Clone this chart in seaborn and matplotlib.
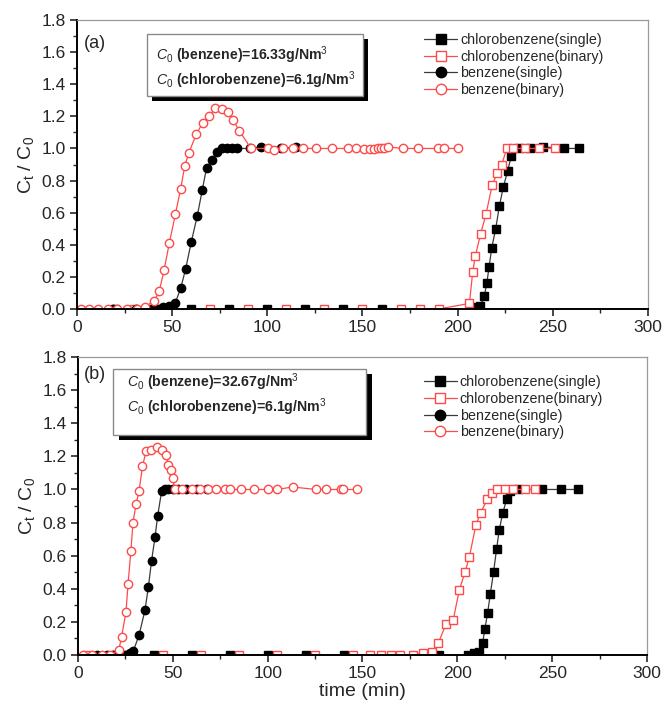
import matplotlib
matplotlib.use("Agg")
import matplotlib.pyplot as plt
import matplotlib.ticker as ticker
from matplotlib.patches import Rectangle
import seaborn as sns

# --- data (time in min, Ct/C0) ---
# panel (a): C0 benzene = 16.33 g/Nm3
a_cb_single_x = [20, 40, 60, 80, 100, 120, 140, 160, 207, 210, 212, 214, 215.3, 216.5, 217.9, 220,
                 221.9, 224, 226.3, 228.1, 232.4, 238, 245, 256, 264]
a_cb_single_y = [0, 0, 0, 0, 0, 0, 0, 0, 0, 0.01, 0.02, 0.08, 0.16, 0.26, 0.38, 0.50,
                 0.64, 0.76, 0.86, 0.95, 1.0, 1.0, 1.01, 1.0, 1.0]
a_cb_binary_x = [30, 50, 70, 90, 110, 130, 150, 170, 180, 190, 206.2, 207.9, 209.3, 212.1, 214.9,
                 218.1, 220.9, 223.2, 225.8, 229.3, 235.4, 243, 251.2]
a_cb_binary_y = [0, 0, 0, 0, 0, 0, 0, 0, 0, 0, 0.035, 0.23, 0.33, 0.47, 0.59,
                 0.77, 0.85, 0.90, 1.0, 1.0, 1.0, 1.0, 1.0]
a_bz_single_x = [19, 31, 42.9, 45.4, 48.5, 51.7, 54.5, 57.1, 60.1, 63.2, 65.8, 68.1, 70.9, 73.4,
                 76, 78.6, 81.3, 84.2, 90.9, 96.7, 107.2, 115.1]
a_bz_single_y = [0, 0, 0, 0.01, 0.02, 0.04, 0.13, 0.25, 0.42, 0.58, 0.74, 0.88, 0.93, 0.98,
                 1.0, 1.0, 1.0, 1.0, 1.0, 1.01, 1.0, 1.01]
a_bz_binary_x = [1.9, 6.5, 11.2, 16.4, 21.2, 26.1, 31.4, 35.7, 40.6, 43.2, 45.7, 48.5, 51.7, 54.5,
                 56.6, 58.7, 62.7, 66.1, 69.2, 72.7, 76.2, 79.5, 81.8, 85.3, 91.4, 100.2, 103.7,
                 108.4, 113.5, 118.5, 125.6, 133.8, 142.2, 146.6, 151, 154.1, 156.2, 158, 159.7,
                 161.5, 163.2, 171.1, 179.3, 189.8, 192.9, 200]
a_bz_binary_y = [0, 0, 0, 0, 0, 0, 0, 0.015, 0.05, 0.11, 0.24, 0.41, 0.59, 0.75,
                 0.89, 0.97, 1.09, 1.16, 1.20, 1.25, 1.245, 1.225, 1.18, 1.11, 1.0, 1.0, 0.99,
                 1.0, 1.0, 1.0, 1.0, 1.0, 1.0, 1.0, 0.995, 0.995, 0.995, 1.0, 1.0,
                 1.0, 1.01, 1.0, 1.0, 1.0, 1.0, 1.0]

# panel (b): C0 benzene = 32.67 g/Nm3
b_cb_single_x = [20, 40, 60, 80, 100, 120, 140, 190.5, 205.4, 208.9, 211.6, 213.3, 214.5, 216,
                 217.4, 219.1, 220.7, 222.1, 223.9, 226, 228, 232, 244.4, 254.6, 263.4]
b_cb_single_y = [0, 0, 0, 0, 0, 0, 0, 0, 0, 0.01, 0.02, 0.07, 0.155, 0.255,
                 0.37, 0.50, 0.64, 0.755, 0.855, 0.94, 0.99, 1.0, 1.0, 1.0, 1.0]
b_cb_binary_x = [5, 25, 45, 65, 85, 105, 125, 145, 154, 160, 165, 170, 176.4, 181.7, 186.5,
                 189.9, 194, 197.8, 201, 204, 206.3, 209.8, 212.3, 215.8, 218.1, 221, 225.1,
                 229.5, 235.6, 240.9]
b_cb_binary_y = [0, 0, 0, 0, 0, 0, 0, 0, 0, 0, 0, 0, 0, 0.01, 0.02,
                 0.07, 0.185, 0.21, 0.39, 0.50, 0.59, 0.785, 0.86, 0.94, 0.98, 1.0, 1.0,
                 1.0, 1.0, 1.0]
b_bz_single_x = [9.8, 15.1, 18.6, 21.3, 24.9, 27.4, 29.2, 32.2, 35.3, 37.1, 38.8, 40.6, 42,
                 44.1, 45.9, 47.6, 50.2, 52.9, 56.9, 62.6, 67.8]
b_bz_single_y = [0, 0, 0, 0, 0, 0.015, 0.025, 0.12, 0.27, 0.41, 0.57, 0.71, 0.84,
                 0.99, 1.0, 1.0, 1.0, 1.0, 1.0, 1.0, 1.0]
b_bz_binary_x = [2.5, 7.2, 12.5, 16.9, 21.5, 23, 25.3, 26.4, 27.9, 29, 30.6, 32.2, 34, 35.9,
                 38.3, 41.5, 44.1, 46.4, 47.6, 48.9, 49.9, 51.1, 55, 60, 64.4, 68.8, 73, 77.5,
                 80.1, 85.9, 92.8, 100.3, 104.7, 113.2, 125.5, 130.6, 138.5, 139.9, 146.9]
b_bz_binary_y = [0, 0, 0, 0, 0.03, 0.11, 0.26, 0.43, 0.63, 0.80, 0.91, 0.99, 1.14, 1.23,
                 1.24, 1.255, 1.24, 1.21, 1.15, 1.12, 1.07, 1.0, 1.0, 1.0, 1.0, 1.0, 1.0, 1.0,
                 1.0, 1.0, 1.0, 1.0, 1.0, 1.015, 1.0, 1.0, 1.0, 1.0, 1.0]

SERIES_LABELS = ["chlorobenzene(single)", "chlorobenzene(binary)", "benzene(single)", "benzene(binary)"]
BOX_LINES = {
    "a": [r"$C_0$ (benzene)=16.33g/Nm$^3$", r"$C_0$ (chlorobenzene)=6.1g/Nm$^3$"],
    "b": [r"$C_0$ (benzene)=32.67g/Nm$^3$", r"$C_0$ (chlorobenzene)=6.1g/Nm$^3$"],
}
X_TICKS = [0, 50, 100, 150, 200, 250, 300]
Y_TICKS = [0.0, 0.2, 0.4, 0.6, 0.8, 1.0, 1.2, 1.4, 1.6, 1.8]

RED = "#ff4a4a"
DARK = "#3a3a3a"

sns.set_style("ticks")
plt.rcParams['font.family'] = ['Liberation Sans', 'DejaVu Sans']
plt.rcParams['mathtext.fontset'] = 'custom'
plt.rcParams['mathtext.rm'] = 'Liberation Sans'
plt.rcParams['mathtext.it'] = 'Liberation Sans:italic'
plt.rcParams['mathtext.bf'] = 'Liberation Sans:bold'


def draw_panel(ax, series, tag, box, box_text_pos, leg_anchor):
    styles = [
        dict(marker='s', color=DARK, markerfacecolor='black', markeredgecolor='black'),
        dict(marker='s', color=RED, markerfacecolor='white', markeredgecolor=RED),
        dict(marker='o', color=DARK, markerfacecolor='black', markeredgecolor='black'),
        dict(marker='o', color=RED, markerfacecolor='white', markeredgecolor=RED),
    ]
    for (xs, ys), lab, st in zip(series, SERIES_LABELS, styles):
        sns.lineplot(x=xs, y=ys, ax=ax, label=lab, estimator=None, sort=False,
                     linewidth=0.9, markersize=6.0, markeredgewidth=1.0, **st)

    ax.set_xlim(0, 300)
    ax.set_ylim(0, 1.8)
    ax.set_xticks(X_TICKS)
    ax.set_yticks(Y_TICKS)
    ax.yaxis.set_major_formatter(ticker.FormatStrFormatter('%.1f'))
    ax.xaxis.set_minor_locator(ticker.MultipleLocator(25))
    ax.yaxis.set_minor_locator(ticker.MultipleLocator(0.1))
    ax.tick_params(which='major', direction='out', length=5, width=1.2, labelsize=12.5, pad=3)
    ax.tick_params(which='minor', direction='out', length=3, width=1.0)
    for side in ['left', 'bottom']:
        ax.spines[side].set_linewidth(1.4)
        ax.spines[side].set_color('black')
    for side in ['top', 'right']:
        ax.spines[side].set_linewidth(0.9)
        ax.spines[side].set_color('#9a9a9a')
    ax.set_ylabel(r"C$_\mathrm{t}$ / C$_\mathrm{0}$", fontsize=14, labelpad=4)
    ax.set_xlabel("")

    ax.text(tag[1], tag[2], tag[0], transform=ax.transAxes, fontsize=13, ha='left', va='center')

    # boxed annotation with black drop shadow
    x0, y0, x1, y1, dx, dy = box
    ax.add_patch(Rectangle((x0 + dx, y0 - dy), x1 - x0, y1 - y0, transform=ax.transAxes,
                           facecolor='black', edgecolor='none', zorder=5))
    ax.add_patch(Rectangle((x0, y0), x1 - x0, y1 - y0, transform=ax.transAxes,
                           facecolor='white', edgecolor='#8a8a8a', linewidth=1.0, zorder=6))
    bx, by1, by2 = box_text_pos
    for line, yy in zip(BOX_LINES[tag[0][1]], [by1, by2]):
        ax.text(bx, yy, line, transform=ax.transAxes, fontsize=10.2, fontweight='bold',
                ha='left', va='center', zorder=7)

    leg = ax.legend(loc='upper left', bbox_to_anchor=leg_anchor, frameon=False, fontsize=10.3,
                    handlelength=2.3, handletextpad=0.2, labelspacing=0.18, borderpad=0.2,
                    borderaxespad=0)
    for h in leg.legend_handles:
        h.set_markersize(7.5)


fig = plt.figure(figsize=(6.62, 7.07), dpi=100)
ax_a = fig.add_axes([0.1163, 0.5629, 0.8625, 0.4088])
ax_b = fig.add_axes([0.1178, 0.0735, 0.8595, 0.4215])

draw_panel(ax_a,
           [(a_cb_single_x, a_cb_single_y), (a_cb_binary_x, a_cb_binary_y),
            (a_bz_single_x, a_bz_single_y), (a_bz_binary_x, a_bz_binary_y)],
           ("(a)", 0.012, 0.92),
           (0.1226, 0.737, 0.501, 0.9516, 0.008, 0.016),
           (0.138, 0.879, 0.792),
           (0.603, 0.965))
draw_panel(ax_b,
           [(b_cb_single_x, b_cb_single_y), (b_cb_binary_x, b_cb_binary_y),
            (b_bz_single_x, b_bz_single_y), (b_bz_binary_x, b_bz_binary_y)],
           ("(b)", 0.01, 0.94),
           (0.0615, 0.738, 0.506, 0.960, 0.010, 0.016),
           (0.086, 0.916, 0.832),
           (0.603, 0.948))
ax_b.set_xlabel("time (min)", fontsize=14, labelpad=1)

fig.savefig("out.png", dpi=100)
